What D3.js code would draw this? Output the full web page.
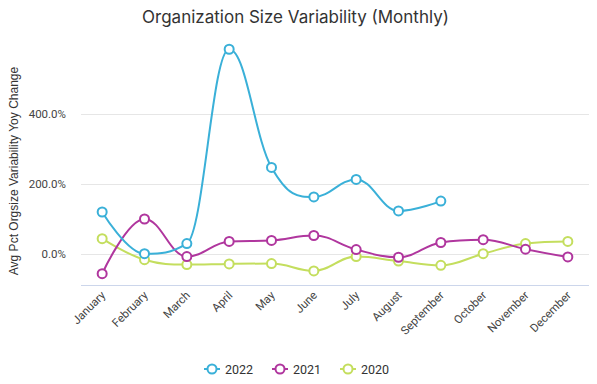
<!DOCTYPE html>
<html>
<head>
<meta charset="utf-8">
<script src="https://cdn.jsdelivr.net/npm/d3@7"></script>
<style>
  body { margin: 0; background: #fff; }
</style>
</head>
<body>
<div id="chart"></div>
<script>
var months = ["January", "February", "March", "April", "May", "June", "July",
  "August", "September", "October", "November", "December"];
var s2022 = [121, 2, 31, 585, 248, 164, 214, 124, 152, null, null, null];
var s2021 = [-55, 101, -6, 37, 40, 54, 14, -8, 34, 42, 15, -7];
var s2020 = [45, -15, -29, -27, -26, -47, -6, -19, -31, 2, 31, 37];
var yTicks = [0, 200, 400];

var seriesList = [
  { name: "2022", color: "#3ab0d8", values: s2022 },
  { name: "2021", color: "#b0369e", values: s2021 },
  { name: "2020", color: "#c4de5e", values: s2020 }
];

var width = 597, height = 384;
var plotLeft = 81, plotRight = 589, plotTop = 44, plotBottom = 286;

var svg = d3.select("#chart").append("svg")
  .attr("width", width)
  .attr("height", height);

var x = d3.scalePoint().domain(months).range([plotLeft, plotRight]).padding(0.5);
var y = d3.scaleLinear().domain([-90, 600]).range([plotBottom, plotTop]);

// spline like the original tool draws it (tangent through neighbours, no false extremes)
function splineCurve(context) {
  return {
    areaStart: function() {}, areaEnd: function() {},
    lineStart: function() { this.pts = []; },
    point: function(px, py) { this.pts.push([px, py]); },
    lineEnd: function() {
      var p = this.pts, n = p.length, lc = [], rc = [];
      for (var i = 0; i < n; i++) {
        if (i == 0 || i == n - 1) { lc[i] = p[i]; rc[i] = p[i]; continue; }
        var lx = p[i-1][0], ly = p[i-1][1], px = p[i][0], py = p[i][1], nx = p[i+1][0], ny = p[i+1][1];
        var lcx = (1.5*px + lx)/2.5, lcy = (1.5*py + ly)/2.5;
        var rcx = (1.5*px + nx)/2.5, rcy = (1.5*py + ny)/2.5;
        var corr = ((rcy - lcy)*(rcx - px))/(rcx - lcx) + py - rcy;
        lcy += corr; rcy += corr;
        if (lcy > ly && lcy > py) { lcy = Math.max(ly, py); rcy = 2*py - lcy; }
        else if (lcy < ly && lcy < py) { lcy = Math.min(ly, py); rcy = 2*py - lcy; }
        if (rcy > ny && rcy > py) { rcy = Math.max(ny, py); lcy = 2*py - rcy; }
        else if (rcy < ny && rcy < py) { rcy = Math.min(ny, py); lcy = 2*py - rcy; }
        lc[i] = [lcx, lcy]; rc[i] = [rcx, rcy];
      }
      if (!n) return;
      context.moveTo(p[0][0], p[0][1]);
      for (var j = 1; j < n; j++)
        context.bezierCurveTo(rc[j-1][0], rc[j-1][1], lc[j][0], lc[j][1], p[j][0], p[j][1]);
    }
  };
}

// grid
svg.append("g").selectAll("line")
  .data(yTicks)
  .enter().append("line")
  .attr("x1", plotLeft).attr("x2", plotRight)
  .attr("y1", function(d) { return Math.round(y(d)) + 0.5; })
  .attr("y2", function(d) { return Math.round(y(d)) + 0.5; })
  .attr("stroke", "#e6e6e6");

svg.append("g").selectAll("text")
  .data(yTicks)
  .enter().append("text")
  .attr("x", 66)
  .attr("y", function(d) { return y(d) + 4; })
  .attr("text-anchor", "end")
  .style("font-family", "Roboto, sans-serif")
  .style("font-size", "11.5px")
  .style("fill", "#444")
  .text(function(d) { return d3.format(".1f")(d) + "%"; });

// x axis
svg.append("line")
  .attr("x1", plotLeft).attr("x2", plotRight)
  .attr("y1", plotBottom - 0.5).attr("y2", plotBottom - 0.5)
  .attr("stroke", "#ccd6eb");

svg.append("g").selectAll("text")
  .data(months)
  .enter().append("text")
  .attr("transform", function(d) { return "translate(" + (x(d) + 4) + ",296) rotate(-45)"; })
  .attr("text-anchor", "end")
  .style("font-family", "Roboto, sans-serif")
  .style("font-size", "11.5px")
  .style("fill", "#444")
  .text(function(d) { return d; });

// titles
svg.append("text")
  .attr("x", 295.5).attr("y", 23)
  .attr("text-anchor", "middle")
  .style("font-family", "Inter, sans-serif")
  .style("font-size", "17px")
  .style("fill", "#333")
  .text("Organization Size Variability (Monthly)");

svg.append("text")
  .attr("transform", "translate(18,171) rotate(-90)")
  .attr("text-anchor", "middle")
  .style("font-family", "'Liberation Sans', Arial, sans-serif")
  .style("font-size", "12px")
  .style("fill", "#333")
  .text("Avg Pct Orgsize Variability Yoy Change");

// series
var line = d3.line()
  .defined(function(d) { return d != null; })
  .x(function(d, i) { return x(months[i]); })
  .y(function(d) { return y(d); })
  .curve(splineCurve);

seriesList.slice().reverse().forEach(function(s) {
  var g = svg.append("g");
  g.append("path")
    .attr("d", line(s.values))
    .attr("fill", "none")
    .attr("stroke", s.color)
    .attr("stroke-width", 2);
  g.selectAll("circle")
    .data(s.values.map(function(v, i) { return [months[i], v]; }).filter(function(d) { return d[1] != null; }))
    .enter().append("circle")
    .attr("cx", function(d) { return x(d[0]); })
    .attr("cy", function(d) { return y(d[1]); })
    .attr("r", 4.5)
    .attr("fill", "#fff")
    .attr("stroke", s.color)
    .attr("stroke-width", 2);
});

// legend
var legend = svg.append("g");
seriesList.forEach(function(s, i) {
  var lx = 204 + i * 68;
  legend.append("line")
    .attr("x1", lx).attr("x2", lx + 16)
    .attr("y1", 369).attr("y2", 369)
    .attr("stroke", s.color).attr("stroke-width", 2);
  legend.append("circle")
    .attr("cx", lx + 8).attr("cy", 369).attr("r", 4.5)
    .attr("fill", "#fff").attr("stroke", s.color).attr("stroke-width", 2);
  legend.append("text")
    .attr("x", lx + 21).attr("y", 373.5)
    .style("font-family", "Roboto, sans-serif")
    .style("font-size", "12.5px")
    .style("fill", "#333")
    .text(s.name);
});
</script>
</body>
</html>
